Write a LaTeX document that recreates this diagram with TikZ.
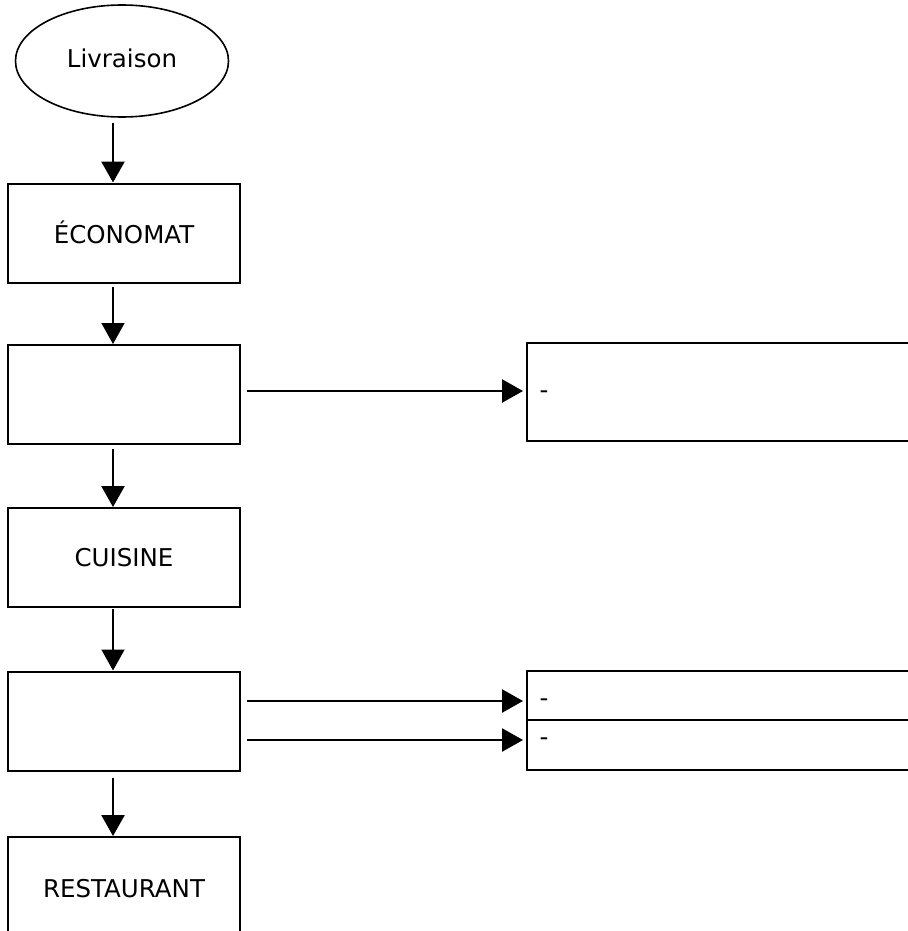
\documentclass[tikz,border=0pt]{standalone}
\usepackage{fontspec}
\setmainfont{DejaVu Sans}
\usetikzlibrary{arrows.meta,shapes.geometric}
\begin{document}
\begin{tikzpicture}[x=1pt,y=-1pt,
  box/.style={draw,line width=2pt,minimum width=232pt,minimum height=99pt,inner sep=0pt},
  lbl/.style={font=\fontsize{24.5}{28}\selectfont},
  arr/.style={line width=2.6pt,-{Triangle[width=23pt,length=21pt]}},
  thinarr/.style={line width=1.6pt,-{Triangle[width=23pt,length=21pt]}}]
\useasboundingbox (0,0) rectangle (907,931);
\node[draw,ellipse,line width=1.6pt,minimum width=213pt,minimum height=112pt,inner sep=0pt,lbl] (liv) at (122,61) {\raisebox{6pt}{Livraison}};
\node[box,lbl] (eco) at (124,233) {\raisebox{1pt}{ÉCONOMAT}};
\node[box] (b2) at (124,394.5) {};
\node[box,lbl] (cui) at (124,557.5) {CUISINE};
\node[box] (b4) at (124,721) {};
\node[box,lbl,minimum height=120pt,anchor=north] (res) at (124,836) {\raisebox{18pt}{RESTAURANT}};
% right boxes
\draw[line width=2pt] (915,343) -- (527,343) -- (527,441) -- (915,441);
\node[inner sep=0pt,lbl] (d1) at (544,395) {-};
\draw[line width=2pt] (915,671) -- (527,671) -- (527,770) -- (915,770);
\draw[line width=1.6pt] (527,720) -- (915,720);
\node[inner sep=0pt,lbl] (d2) at (544,703) {-};
\node[inner sep=0pt,lbl] (d3) at (544,742) {-};
% arrow end points
\coordinate (s1) at (113,123);
\coordinate (s2) at (113,287);
\coordinate (s3) at (113,449);
\coordinate (s4) at (113,609);
\coordinate (s5) at (113,778);
\coordinate (h1) at (247,391);
\coordinate (h2) at (247,701);
\coordinate (h3) at (247,740);
\coordinate (r1) at (523,391);
\coordinate (r2) at (523,701);
\coordinate (r3) at (523,740);
% arrows
\draw[arr] (s1) -- (s1 |- eco.north);
\draw[thinarr] (s2) -- (s2 |- b2.north);
\draw[arr] (s3) -- (s3 |- cui.north);
\draw[thinarr] (s4) -- (s4 |- b4.north);
\draw[arr] (s5) -- (s5 |- res.north);
\draw[arr] (h1) -- (r1);
\draw[arr] (h2) -- (r2);
\draw[arr] (h3) -- (r3);
\end{tikzpicture}
\end{document}
